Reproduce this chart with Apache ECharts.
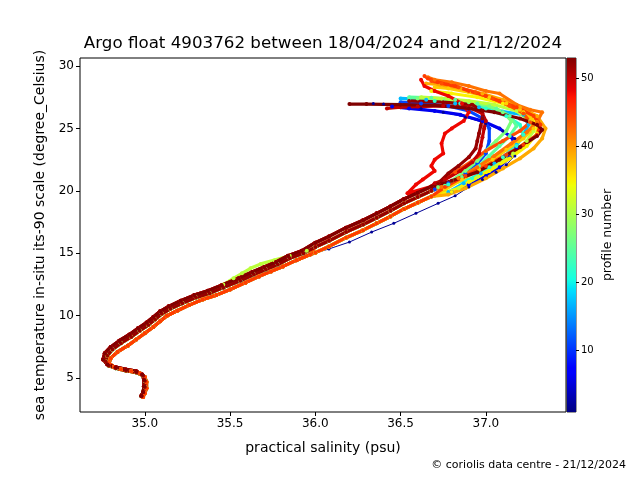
<!DOCTYPE html>
<html>
<head>
<meta charset="utf-8">
<script src="https://cdn.jsdelivr.net/npm/echarts@6/dist/echarts.min.js"></script>
<style>
  html, body { margin: 0; background: #fff; }
  #tsChart { width: 640px; height: 480px; }
</style>
</head>
<body>
<div id="tsChart"></div>
<script>
// profile numbers, drawn in this order (later ones on top)
const profileNumbers = [2, 6, 11, 17, 22, 25, 27, 31, 35, 37, 39, 42, 44, 45, 48, 50, 52, 53];

// upper part of each profile, [salinity, temperature], surface first
const up02 = [[36.34, 27.0], [36.4, 26.95], [36.5, 26.8], [36.62, 26.6], [36.75, 26.3], [36.88, 25.9], [37.0, 25.4], [37.1, 24.8], [37.17, 24.2], [37.2, 23.5], [37.17, 22.8], [37.12, 22.1], [37.06, 21.5], [36.98, 20.9], [36.9, 20.3], [36.82, 19.6]];
const up06 = [[36.45, 26.75], [36.55, 26.6], [36.7, 26.4], [36.85, 26.1], [36.98, 25.6], [37.08, 25.0], [37.15, 24.3], [37.18, 23.5], [37.14, 22.7], [37.08, 21.9], [37.0, 21.2], [36.9, 20.5], [36.8, 19.9]];
const up11 = [[36.5, 27.1], [36.62, 27.0], [36.78, 26.8], [36.9, 26.4], [36.98, 25.8], [37.02, 25.0], [37.02, 24.0], [37.0, 23.0], [36.95, 22.2], [36.88, 21.4], [36.78, 20.6], [36.7, 20.1]];
const up17 = [[36.5, 27.4], [36.65, 27.3], [36.82, 27.0], [36.96, 26.7], [37.1, 26.35], [37.22, 26.1], [37.25, 25.3], [37.22, 24.5], [37.18, 23.7], [37.12, 22.9], [37.05, 22.2], [36.97, 21.4], [36.87, 20.6], [36.78, 19.9]];
const up22 = [[36.55, 27.3], [36.7, 27.2], [36.85, 27.0], [37.0, 26.6], [37.12, 26.0], [37.2, 25.3], [37.22, 24.5], [37.18, 23.6], [37.1, 22.7], [37.02, 21.9], [36.92, 21.0], [36.78, 20.5]];
const up25 = [[36.55, 27.5], [36.68, 27.45], [36.82, 27.3], [36.95, 27.0], [37.06, 26.6], [37.14, 26.0], [37.18, 25.2], [37.14, 24.4], [37.08, 23.6], [37.02, 22.8], [36.96, 22.0], [36.86, 21.1], [36.76, 20.4]];
const up27 = [[36.6, 27.4], [36.75, 27.3], [36.9, 27.1], [37.02, 26.8], [37.1, 26.3], [37.15, 25.6], [37.12, 24.8], [37.06, 24.0], [37.0, 23.2], [36.95, 22.4], [36.88, 21.6], [36.8, 20.8], [36.72, 20.3]];
const up31 = [[36.62, 27.5], [36.74, 27.4], [36.9, 27.2], [37.05, 26.9], [37.18, 26.4], [37.26, 25.6], [37.28, 24.8], [37.24, 24.0], [37.16, 23.0], [37.06, 22.0], [36.95, 21.1], [36.84, 20.2]];
const up35 = [[36.68, 28.0], [36.8, 27.8], [36.95, 27.5], [37.1, 27.0], [37.22, 26.3], [37.3, 25.5], [37.3, 24.6], [37.24, 23.6], [37.14, 22.6], [37.02, 21.6], [36.9, 20.7], [36.8, 19.9]];
const up37 = [[36.7, 28.3], [36.78, 28.2], [36.9, 27.9], [37.02, 27.5], [37.12, 27.0], [37.2, 26.5], [37.27, 25.8], [37.28, 25.0], [37.22, 24.2], [37.12, 23.3], [37.04, 22.5], [36.96, 21.7], [36.86, 20.9], [36.76, 20.1]];
const up39 = [[36.65, 28.6], [36.73, 28.5], [36.85, 28.2], [36.98, 27.8], [37.1, 27.3], [37.2, 26.7], [37.3, 26.0], [37.35, 25.0], [37.33, 24.2], [37.28, 23.4], [37.2, 22.6], [37.1, 21.8], [37.0, 21.0], [36.88, 20.2], [36.78, 19.7]];
const up42 = [[36.66, 29.1], [36.7, 28.9], [36.8, 28.7], [36.9, 28.4], [37.0, 28.0], [37.08, 27.8], [37.18, 26.9], [37.26, 26.5], [37.33, 26.3], [37.3, 25.5], [37.24, 24.7], [37.15, 23.8], [37.05, 22.8], [36.95, 21.9], [36.84, 21.0], [36.74, 20.3]];
const up44 = [[36.68, 28.8], [36.74, 28.6], [36.84, 28.3], [36.94, 27.9], [37.04, 27.4], [37.14, 26.8], [37.22, 26.2], [37.26, 25.5], [37.2, 24.8], [37.1, 24.0], [37.0, 23.2], [36.92, 22.4], [36.82, 21.5], [36.72, 20.6]];
const up45 = [[36.64, 29.2], [36.66, 29.0], [36.72, 28.7], [36.82, 28.4], [36.9, 28.0], [37.0, 27.6], [37.08, 27.2], [37.18, 26.7], [37.28, 26.0], [37.32, 25.3], [37.3, 24.5], [37.22, 23.7], [37.12, 22.9], [37.0, 22.0], [36.88, 21.2], [36.76, 20.3]];
const up48 = [[36.62, 28.9], [36.64, 28.4], [36.7, 28.0], [36.78, 27.6], [36.86, 27.0], [36.9, 26.3], [36.87, 25.6], [36.8, 25.0], [36.76, 24.6], [36.74, 23.8], [36.75, 23.0], [36.7, 22.5], [36.68, 22.0], [36.7, 21.6], [36.63, 20.9], [36.59, 20.5], [36.54, 19.8]];
const up50 = [[36.42, 26.6], [36.5, 26.7], [36.6, 26.75], [36.75, 26.8], [36.9, 26.7], [36.98, 26.2], [37.0, 25.6], [36.99, 25.0], [36.98, 24.3], [36.97, 23.6], [36.96, 23.0], [36.92, 22.3], [36.85, 21.6], [36.76, 20.9], [36.7, 20.6]];
const up52 = [[36.55, 27.2], [36.75, 27.1], [36.92, 26.9], [36.98, 26.4], [36.98, 25.8], [36.97, 25.2], [36.96, 24.6], [36.95, 24.0], [36.94, 23.4], [36.9, 22.7], [36.84, 22.0], [36.78, 21.4], [36.72, 20.6]];
const up53 = [[36.2, 26.95], [36.3, 26.95], [36.5, 26.9], [36.7, 26.85], [36.9, 26.6], [37.05, 26.3], [37.2, 25.8], [37.3, 25.3], [37.33, 24.9], [37.3, 24.4], [37.2, 23.5], [37.08, 22.5], [36.95, 21.5], [36.8, 20.8]];

// thermocline part (20 -> 15 degC), three variants across the band
const midLeft = [[36.68, 20.35], [36.6, 19.85], [36.52, 19.35], [36.44, 18.75], [36.36, 18.2], [36.28, 17.65], [36.18, 17.05], [36.08, 16.35], [36.0, 15.85]];
const midCenter = [[36.68, 20.0], [36.6, 19.5], [36.52, 19.0], [36.44, 18.4], [36.36, 17.85], [36.28, 17.3], [36.18, 16.7], [36.08, 16.0], [36.0, 15.5]];
const midRight = [[36.68, 19.55], [36.6, 19.05], [36.52, 18.55], [36.44, 17.95], [36.36, 17.4], [36.28, 16.85], [36.18, 16.25], [36.08, 15.55], [36.0, 15.05]];
const midBlue = [[36.72, 19.0], [36.59, 18.2], [36.46, 17.4], [36.33, 16.7], [36.2, 15.9], [36.08, 15.35]];

// deep part (15 -> 3.5 degC)
const deepLeft = [[35.92, 15.2], [35.84, 14.8], [35.77, 14.3], [35.7, 13.9], [35.63, 13.5], [35.55, 13.0], [35.45, 12.45], [35.37, 12.0], [35.29, 11.65], [35.21, 11.2], [35.14, 10.75], [35.09, 10.35], [35.05, 9.9], [35.01, 9.45], [34.96, 9.0], [34.91, 8.5], [34.85, 8.0], [34.8, 7.5], [34.765, 7.0], [34.755, 6.5], [34.78, 6.1], [34.83, 5.88], [34.89, 5.7], [34.95, 5.56], [34.985, 5.3], [34.995, 4.85], [34.995, 4.35], [34.99, 3.9], [34.98, 3.6]];
const deepCenter = [[35.93, 15.0], [35.85, 14.6], [35.78, 14.1], [35.71, 13.7], [35.64, 13.3], [35.56, 12.8], [35.46, 12.25], [35.38, 11.8], [35.3, 11.45], [35.22, 11.0], [35.15, 10.55], [35.1, 10.15], [35.06, 9.7], [35.02, 9.25], [34.97, 8.8], [34.92, 8.3], [34.86, 7.8], [34.81, 7.3], [34.78, 6.8], [34.77, 6.35], [34.79, 6.0], [34.83, 5.8], [34.89, 5.6], [34.95, 5.45], [34.99, 5.2], [35.0, 4.8], [35.0, 4.3], [34.99, 3.9], [34.98, 3.55]];
const deepRight = [[35.97, 14.9], [35.89, 14.45], [35.81, 13.95], [35.74, 13.55], [35.67, 13.15], [35.59, 12.65], [35.5, 12.1], [35.42, 11.65], [35.34, 11.3], [35.26, 10.85], [35.19, 10.4], [35.13, 10.0], [35.09, 9.55], [35.05, 9.1], [35.0, 8.6], [34.95, 8.1], [34.9, 7.6], [34.84, 7.1], [34.8, 6.6], [34.79, 6.2], [34.82, 5.9], [34.86, 5.72], [34.92, 5.55], [34.97, 5.4], [35.0, 5.1], [35.01, 4.7], [35.01, 4.2], [35.0, 3.8], [34.99, 3.5]];
const deepGreen = [[35.95, 15.2], [35.85, 14.8], [35.76, 14.45], [35.68, 14.15], [35.62, 13.8], [35.57, 13.4], [35.52, 13.0], [35.46, 12.5], [35.38, 11.8], [35.3, 11.45], [35.22, 11.0], [35.15, 10.55], [35.1, 10.15], [35.06, 9.7], [35.02, 9.25], [34.97, 8.8], [34.92, 8.3], [34.86, 7.8], [34.81, 7.3], [34.78, 6.8], [34.77, 6.35], [34.79, 6.0], [34.83, 5.8], [34.89, 5.6], [34.95, 5.45], [34.99, 5.2], [35.0, 4.8], [35.0, 4.3], [34.99, 3.9]];

const profiles = [
  up02.concat(midBlue, deepRight),
  up06.concat(midRight, deepRight),
  up11.concat(midCenter, deepCenter),
  up17.concat(midRight, deepRight),
  up22.concat(midCenter, deepCenter),
  up25.concat(midCenter, deepCenter),
  up27.concat(midCenter, deepCenter),
  up31.concat(midRight, deepGreen),
  up35.concat(midRight, deepRight),
  up37.concat(midRight, deepRight),
  up39.concat(midRight, deepRight),
  up42.concat(midCenter, deepCenter),
  up44.concat(midCenter, deepRight),
  up45.concat(midRight, deepRight),
  up48.concat(midLeft, deepLeft),
  up50.concat(midLeft, deepLeft),
  up52.concat(midCenter, deepCenter),
  up53.concat(midLeft, deepLeft),
];

const salTicks = [35.0, 35.5, 36.0, 36.5, 37.0];
const tempTicks = [5, 10, 15, 20, 25, 30];
const cbTicks = [10, 20, 30, 40, 50];
const cbMin = 1, cbMax = 53;

// matplotlib jet
const jetR = [[0, 0], [0.35, 0], [0.66, 1], [0.89, 1], [1, 0.5]];
const jetG = [[0, 0], [0.125, 0], [0.375, 1], [0.64, 1], [0.91, 0], [1, 0]];
const jetB = [[0, 0.5], [0.11, 1], [0.34, 1], [0.65, 0], [1, 0]];
function seg(pts, t) {
  for (let i = 1; i < pts.length; i++) {
    if (t <= pts[i][0]) {
      const a = pts[i - 1], b = pts[i];
      return a[1] + (b[1] - a[1]) * (t - a[0]) / (b[0] - a[0]);
    }
  }
  return pts[pts.length - 1][1];
}
function jet(t) {
  const c = [seg(jetR, t), seg(jetG, t), seg(jetB, t)].map((v) => Math.round(v * 255));
  return `rgb(${c[0]},${c[1]},${c[2]})`;
}
const profileColor = (n) => jet((n - cbMin) / (cbMax - cbMin));

const cbStops = [0, 0.11, 0.125, 0.34, 0.35, 0.375, 0.64, 0.65, 0.66, 0.89, 0.91, 1]
  .map((t) => ({ offset: t, color: jet(t) }));

const font = 'DejaVu Sans';
const chart = echarts.init(document.getElementById('tsChart'));

const series = profiles.map((pts, i) => ({
  type: 'line',
  name: 'profile ' + profileNumbers[i],
  data: pts,
  xAxisIndex: 0,
  yAxisIndex: 0,
  symbol: 'circle',
  symbolSize: profileNumbers[i] === 2 ? 3 : 4,
  showAllSymbol: true,
  color: profileColor(profileNumbers[i]),
  lineStyle: { width: profileNumbers[i] === 2 ? 1 : 3.2 },
  itemStyle: { color: profileColor(profileNumbers[i]) },
  emphasis: { disabled: true },
}));

// colorbar: transparent base up to cbMin, gradient from cbMin to cbMax
series.push({
  type: 'bar', xAxisIndex: 1, yAxisIndex: 1, stack: 'cb', barWidth: '100%',
  data: [cbMin], itemStyle: { color: 'transparent' }, silent: true,
});
series.push({
  type: 'bar', xAxisIndex: 1, yAxisIndex: 1, stack: 'cb', barWidth: '100%',
  data: [cbMax - cbMin],
  itemStyle: { color: new echarts.graphic.LinearGradient(0, 1, 0, 0, cbStops) },
  silent: true,
});

const option = {
  animation: false,
  backgroundColor: '#fff',
  textStyle: { fontFamily: font },
  grid: [
    { left: 80, top: 58, width: 486, height: 354, show: true, borderColor: '#000', borderWidth: 1 },
    { left: 567, top: 58, width: 9, height: 354, show: true, borderColor: '#000', borderWidth: 0.8 },
  ],
  xAxis: [{
    type: 'value', gridIndex: 0, min: 34.62, max: 37.47,
    name: 'practical salinity (psu)', nameLocation: 'middle', nameGap: 29,
    nameTextStyle: { color: '#000', fontSize: 14, fontFamily: font },
    axisLine: { show: false },
    splitLine: { show: false },
    axisTick: { show: true, length: 4, inside: false, customValues: salTicks, lineStyle: { color: '#000' } },
    axisLabel: { customValues: salTicks, color: '#000', fontSize: 12, fontFamily: font, margin: 6, formatter: (v) => v.toFixed(1) },
  }, {
    type: 'category', gridIndex: 1, data: ['cb'], show: false,
  }],
  yAxis: [{
    type: 'value', gridIndex: 0, min: 2.29, max: 30.64,
    name: 'sea temperature in-situ its-90 scale (degree_Celsius)', nameLocation: 'middle', nameRotate: 90, nameGap: 32,
    nameTextStyle: { color: '#000', fontSize: 14, fontFamily: font },
    axisLine: { show: false },
    splitLine: { show: false },
    axisTick: { show: true, length: 4, customValues: tempTicks, lineStyle: { color: '#000' } },
    axisLabel: { customValues: tempTicks, color: '#000', fontSize: 12, fontFamily: font, margin: 6 },
  }, {
    type: 'value', gridIndex: 1, min: cbMin, max: cbMax, position: 'right',
    name: 'profile number', nameLocation: 'middle', nameRotate: 90, nameGap: 25,
    nameTextStyle: { color: '#000', fontSize: 12.5, fontFamily: font },
    axisLine: { show: false },
    splitLine: { show: false },
    axisTick: { show: true, length: 3, customValues: cbTicks, lineStyle: { color: '#000' } },
    axisLabel: { customValues: cbTicks, color: '#000', fontSize: 10, fontFamily: font, margin: 5 },
  }],
  graphic: [{
    type: 'text', x: 323, y: 44,
    style: { text: 'Argo float 4903762 between 18/04/2024 and 21/12/2024', font: '16.7px "DejaVu Sans"', fill: '#000', textAlign: 'center', textVerticalAlign: 'middle' },
  }, {
    type: 'text', x: 626, y: 465,
    style: { text: '© coriolis data centre - 21/12/2024', font: '11px "DejaVu Sans"', fill: '#000', textAlign: 'right', textVerticalAlign: 'middle' },
  }],
  series,
};

chart.setOption(option);
</script>
</body>
</html>
